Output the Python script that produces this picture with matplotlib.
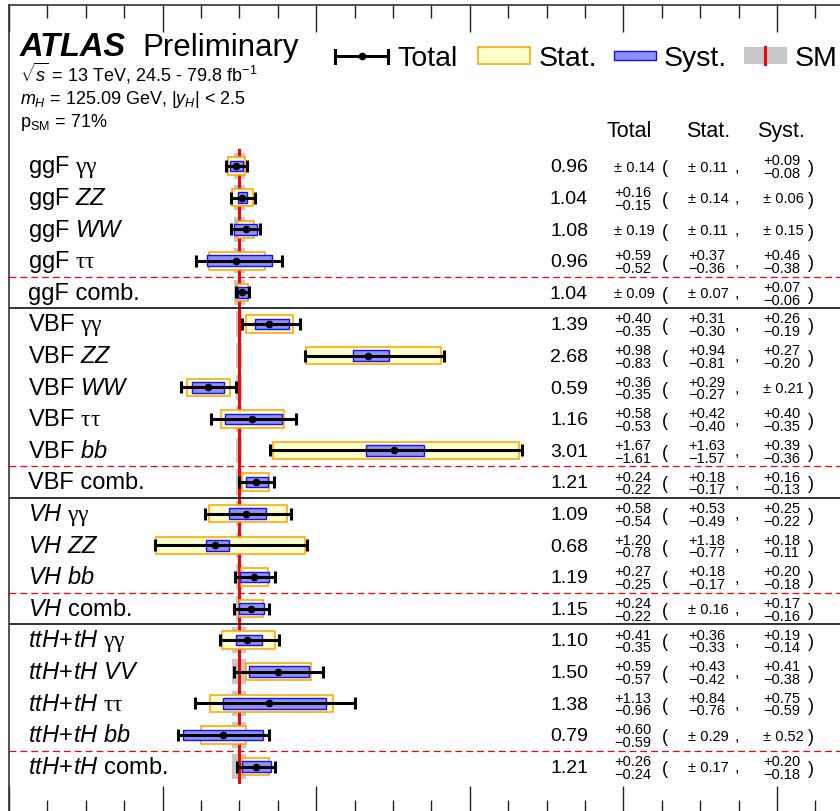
import matplotlib
matplotlib.use("Agg")
import numpy as np
import matplotlib.pyplot as plt
from matplotlib import transforms
from matplotlib.patches import Rectangle
from matplotlib.lines import Line2D
from matplotlib.ticker import MultipleLocator

plt.rcParams['font.family'] = ['Liberation Sans', 'DejaVu Sans']
plt.rcParams['mathtext.fontset'] = 'custom'
plt.rcParams['mathtext.rm'] = 'Liberation Sans'
plt.rcParams['mathtext.it'] = 'Liberation Sans:italic'
plt.rcParams['mathtext.bf'] = 'Liberation Sans:bold'
plt.rcParams['mathtext.cal'] = 'Liberation Serif'   # greek letters, symbol-like

# channels, top to bottom
labels = [
    r"ggF $\mathcal{γγ}$", r"ggF $\mathit{ZZ}$", r"ggF $\mathit{WW}$", r"ggF $\mathcal{ττ}$", "ggF comb.",
    r"VBF $\mathcal{γγ}$", r"VBF $\mathit{ZZ}$", r"VBF $\mathit{WW}$", r"VBF $\mathcal{ττ}$",
    r"VBF $\mathit{bb}$", "VBF comb.",
    r"$\mathit{VH}$ $\mathcal{γγ}$", r"$\mathit{VH}$ $\mathit{ZZ}$", r"$\mathit{VH}$ $\mathit{bb}$",
    r"$\mathit{VH}$ comb.",
    r"$\mathit{ttH\!+\!tH}$ $\mathcal{γγ}$", r"$\mathit{ttH\!+\!tH}$ $\mathit{VV}$",
    r"$\mathit{ttH\!+\!tH}$ $\mathcal{ττ}$", r"$\mathit{ttH\!+\!tH}$ $\mathit{bb}$",
    r"$\mathit{ttH\!+\!tH}$ comb.",
]
mu      = [0.96, 1.04, 1.08, 0.96, 1.04, 1.39, 2.68, 0.59, 1.16, 3.01, 1.21,
           1.09, 0.68, 1.19, 1.15, 1.10, 1.50, 1.38, 0.79, 1.21]
tot_hi  = [0.14, 0.16, 0.19, 0.59, 0.09, 0.40, 0.98, 0.36, 0.58, 1.67, 0.24,
           0.58, 1.20, 0.27, 0.24, 0.41, 0.59, 1.13, 0.60, 0.26]
tot_lo  = [0.14, 0.15, 0.19, 0.52, 0.09, 0.35, 0.83, 0.35, 0.53, 1.61, 0.22,
           0.54, 0.78, 0.25, 0.22, 0.35, 0.57, 0.96, 0.59, 0.24]
stat_hi = [0.11, 0.14, 0.11, 0.37, 0.07, 0.31, 0.94, 0.29, 0.42, 1.63, 0.18,
           0.53, 1.18, 0.18, 0.16, 0.36, 0.43, 0.84, 0.29, 0.17]
stat_lo = [0.11, 0.14, 0.11, 0.36, 0.07, 0.30, 0.81, 0.27, 0.40, 1.57, 0.17,
           0.49, 0.77, 0.17, 0.16, 0.33, 0.42, 0.76, 0.29, 0.17]
syst_hi = [0.09, 0.06, 0.15, 0.46, 0.07, 0.26, 0.27, 0.21, 0.40, 0.39, 0.16,
           0.25, 0.18, 0.20, 0.17, 0.19, 0.41, 0.75, 0.52, 0.20]
syst_lo = [0.08, 0.06, 0.15, 0.38, 0.06, 0.19, 0.20, 0.21, 0.35, 0.36, 0.13,
           0.22, 0.11, 0.18, 0.16, 0.14, 0.38, 0.59, 0.52, 0.18]
# theory uncertainty on the SM prediction
sm_unc  = [0.07, 0.07, 0.07, 0.07, 0.07, 0.04, 0.04, 0.04, 0.04, 0.04, 0.04,
           0.04, 0.04, 0.04, 0.04, 0.09, 0.09, 0.09, 0.09, 0.09]

dashed_at = [3.5, 9.5, 13.5, 18.5]
solid_at = [4.5, 10.5, 14.5]

W, H = 840, 812
fig = plt.figure(figsize=(W / 100, H / 100), dpi=100)


def fx(p):
    return p / W


def fy(p):
    return 1 - p / H


# axes: x = 0 sits at 163.5 px, 76.8 px per unit; rows 31.6 px apart
ax = fig.add_axes([fx(9), fy(814), 12 * 76.8 / W, (814 - 6) / H])
ax.set_xlim(-2, 10)
ax.set_ylim(20.47, -5.095)

rows = np.arange(len(mu))
mu = np.array(mu)
sm_unc = np.array(sm_unc)

ax.barh(rows, 2 * sm_unc, left=1 - sm_unc, height=0.8, color='#c8c8c8', zorder=1)
ax.plot([1, 1], [-0.5, 19.5], color='red', lw=2.2, zorder=2)

for y in dashed_at:
    ax.axhline(y, color='red', lw=0.9, ls=(0, (5.5, 3.2)), zorder=2)
for y in solid_at:
    ax.axhline(y, color='#222222', lw=1.3, zorder=2)

ax.barh(rows, np.array(stat_hi) + stat_lo, left=mu - np.array(stat_lo), height=0.55,
        facecolor='#ffffcc', edgecolor='#ffa000', lw=1.1, zorder=3)
ax.barh(rows, np.array(syst_hi) + syst_lo, left=mu - np.array(syst_lo), height=0.34,
        facecolor='#9090f5', edgecolor='#1010ff', lw=1.0, zorder=4)
ax.errorbar(mu, rows, xerr=[tot_lo, tot_hi], fmt='o', color='black', ms=4.5,
            elinewidth=2.2, capsize=4.6, capthick=2.2, zorder=5)

ax.xaxis.set_major_locator(MultipleLocator(2))
ax.xaxis.set_minor_locator(MultipleLocator(0.5))
ax.tick_params(which='both', direction='in', top=True, bottom=True, left=False,
               labelbottom=False, labelleft=False, width=1.0, color='#222222')
ax.tick_params(which='major', length=19.5)
ax.tick_params(which='minor', length=9.5)
for s in ax.spines.values():
    s.set_linewidth(1.2)
    s.set_color('#333333')

tr = transforms.blended_transform_factory(fig.transFigure, ax.transData)
small = 10.5


def err_text(xpix, y, hi, lo):
    if hi == lo:
        ax.text(fx(xpix), y + 0.15, f"± {hi:.2f}", transform=tr, fontsize=small, va='baseline')
    else:
        ax.text(fx(xpix), y - 0.05, f"+{hi:.2f}", transform=tr, fontsize=small, va='baseline')
        ax.text(fx(xpix), y + 0.35, f"−{lo:.2f}", transform=tr, fontsize=small, va='baseline')


for i, lab in enumerate(labels):
    ax.text(fx(28), i + 0.2, lab, transform=tr, fontsize=17, va='baseline')
    ax.text(fx(588), i + 0.17, f"{mu[i]:.2f}", transform=tr, fontsize=14,
            ha='right', va='baseline')
    err_text(614, i, tot_hi[i], tot_lo[i])
    ax.text(fx(662), i + 0.2, "(", transform=tr, fontsize=13, va='baseline')
    err_text(688, i, stat_hi[i], stat_lo[i])
    ax.text(fx(735), i + 0.15, ",", transform=tr, fontsize=12, va='baseline')
    err_text(763, i, syst_hi[i], syst_lo[i])
    ax.text(fx(808), i + 0.2, ")", transform=tr, fontsize=13, va='baseline')

# column headers
for name, xc in [("Total", 629), ("Stat.", 708), ("Syst.", 781)]:
    fig.text(fx(xc), fy(137), name, fontsize=15.5, ha='center', va='baseline')

# ATLAS label block
fig.text(fx(20), fy(56), "ATLAS", fontsize=23.5, fontweight='bold', fontstyle='italic', va='baseline')
fig.text(fx(142), fy(56), "Preliminary", fontsize=22.5, va='baseline')
fig.text(fx(20), fy(82), r"$\sqrt{s}$ = 13 TeV, 24.5 - 79.8 fb$^{-1}$", fontsize=13, va='baseline')
fig.text(fx(20), fy(104), r"$m_{H}$ = 125.09 GeV, $|y_{H}|$ < 2.5", fontsize=13, va='baseline')
fig.text(fx(20), fy(127), r"p$_{\mathrm{SM}}$ = 71%", fontsize=13, va='baseline')

# legend
ly = 57
fig.add_artist(Line2D([fx(335), fx(388)], [fy(ly), fy(ly)], color='black', lw=2.2))
for xe in (335, 388):
    fig.add_artist(Line2D([fx(xe), fx(xe)], [fy(ly - 6.5), fy(ly + 6.5)], color='black', lw=2.2))
fig.add_artist(Line2D([fx(362)], [fy(ly)], marker='o', ms=4.5, color='black'))
fig.text(fx(397), fy(66), "Total", fontsize=20.5, va='baseline')

fig.add_artist(Rectangle((fx(478), fy(65)), (530 - 478) / W, 17 / H, transform=fig.transFigure,
                         facecolor='#ffffcc', edgecolor='#ffa000', lw=1.1))
fig.text(fx(539), fy(66), "Stat.", fontsize=20.5, va='baseline')

fig.add_artist(Rectangle((fx(614), fy(61)), (656 - 614) / W, 9 / H, transform=fig.transFigure,
                         facecolor='#9090f5', edgecolor='#1010ff', lw=1.0))
fig.text(fx(664), fy(66), "Syst.", fontsize=20.5, va='baseline')

fig.add_artist(Rectangle((fx(744), fy(65)), (787 - 744) / W, 17 / H, transform=fig.transFigure,
                         facecolor='#c8c8c8', edgecolor='none'))
fig.add_artist(Line2D([fx(765), fx(765)], [fy(48), fy(65)], color='red', lw=2.2))
fig.text(fx(795), fy(66), "SM", fontsize=20.5, va='baseline')

fig.savefig("out.png", dpi=100)
